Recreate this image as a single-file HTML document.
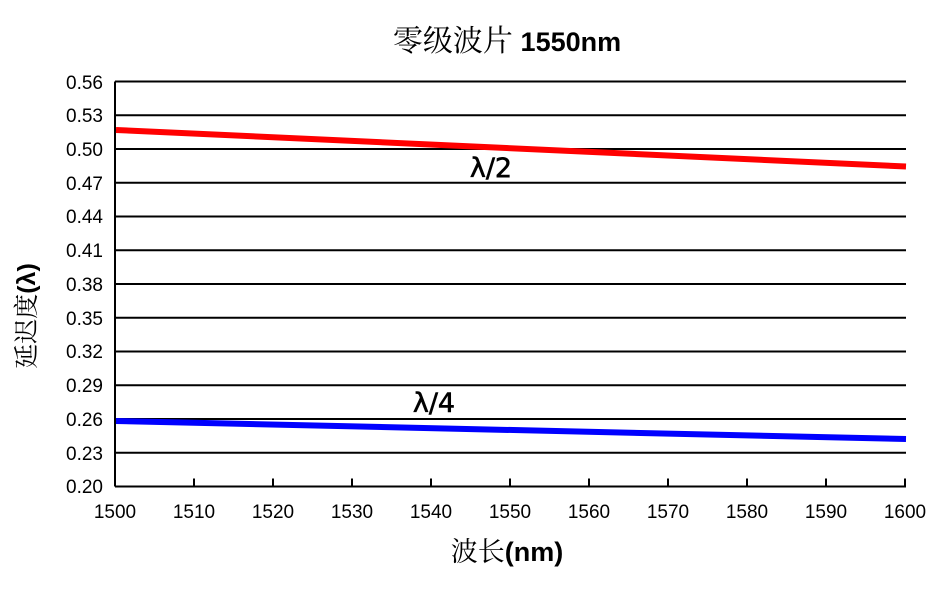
<!DOCTYPE html>
<html><head><meta charset="utf-8"><style>html,body{margin:0;padding:0;background:#fff}svg{display:block}</style></head>
<body>
<svg width="945" height="590" xmlns="http://www.w3.org/2000/svg">
<rect width="945" height="590" fill="#fff"/>
<text x="507" y="51" text-anchor="middle" font-size="30" fill="#000"><tspan font-family="Noto Serif CJK SC, serif">零级波片 </tspan><tspan font-family="Liberation Sans, sans-serif" font-weight="bold" font-size="27">1550nm</tspan></text>
<g stroke="#000" stroke-width="2">
<line x1="115" y1="81.5" x2="906" y2="81.5"/>
<line x1="115" y1="115.25" x2="906" y2="115.25"/>
<line x1="115" y1="149" x2="906" y2="149"/>
<line x1="115" y1="182.75" x2="906" y2="182.75"/>
<line x1="115" y1="216.5" x2="906" y2="216.5"/>
<line x1="115" y1="250.25" x2="906" y2="250.25"/>
<line x1="115" y1="284" x2="906" y2="284"/>
<line x1="115" y1="317.75" x2="906" y2="317.75"/>
<line x1="115" y1="351.5" x2="906" y2="351.5"/>
<line x1="115" y1="385.25" x2="906" y2="385.25"/>
<line x1="115" y1="419" x2="906" y2="419"/>
<line x1="115" y1="452.75" x2="906" y2="452.75"/>
<line x1="115" y1="486.5" x2="906" y2="486.5"/>
<line x1="115" y1="81.5" x2="115" y2="486.5"/>
<path d="M194 486.5v-8M273 486.5v-8M352 486.5v-8M431 486.5v-8M510 486.5v-8M589 486.5v-8M668 486.5v-8M747 486.5v-8M826 486.5v-8M905 486.5v-8"/>
</g>
<line x1="116" y1="130" x2="906" y2="166.5" stroke="#ff0000" stroke-width="6"/>
<line x1="116" y1="421" x2="906" y2="439" stroke="#0000ff" stroke-width="6"/>
<g font-family="Liberation Sans, sans-serif" font-size="19" fill="#000" text-anchor="end">
<text x="103" y="89">0.56</text><text x="103" y="122">0.53</text><text x="103" y="156">0.50</text><text x="103" y="190">0.47</text><text x="103" y="223">0.44</text><text x="103" y="257">0.41</text><text x="103" y="291">0.38</text><text x="103" y="325">0.35</text><text x="103" y="358">0.32</text><text x="103" y="392">0.29</text><text x="103" y="426">0.26</text><text x="103" y="460">0.23</text><text x="103" y="493">0.20</text>
</g>
<g font-family="Liberation Sans, sans-serif" font-size="19" fill="#000" text-anchor="middle">
<text x="115" y="518">1500</text><text x="194" y="518">1510</text><text x="273" y="518">1520</text><text x="352" y="518">1530</text><text x="431" y="518">1540</text><text x="510" y="518">1550</text><text x="589" y="518">1560</text><text x="668" y="518">1570</text><text x="747" y="518">1580</text><text x="826" y="518">1590</text><text x="905" y="518">1600</text>
</g>
<text x="491" y="177" text-anchor="middle" font-family="DejaVu Sans, sans-serif" font-size="27" stroke="#000" stroke-width="0.6" fill="#000">λ/2</text>
<text x="434" y="412" text-anchor="middle" font-family="DejaVu Sans, sans-serif" font-size="27" stroke="#000" stroke-width="0.6" fill="#000">λ/4</text>
<text x="507" y="561" text-anchor="middle" font-size="27" fill="#000"><tspan font-family="Noto Serif CJK SC, serif">波长</tspan><tspan font-family="Liberation Sans, sans-serif" font-weight="bold">(nm)</tspan></text>
<text transform="translate(35,316) rotate(-90)" text-anchor="middle" font-size="25" fill="#000"><tspan font-family="Noto Serif CJK SC, serif">延迟度</tspan><tspan font-family="Liberation Sans, sans-serif" font-weight="bold">(λ)</tspan></text>
</svg>
</body></html>
